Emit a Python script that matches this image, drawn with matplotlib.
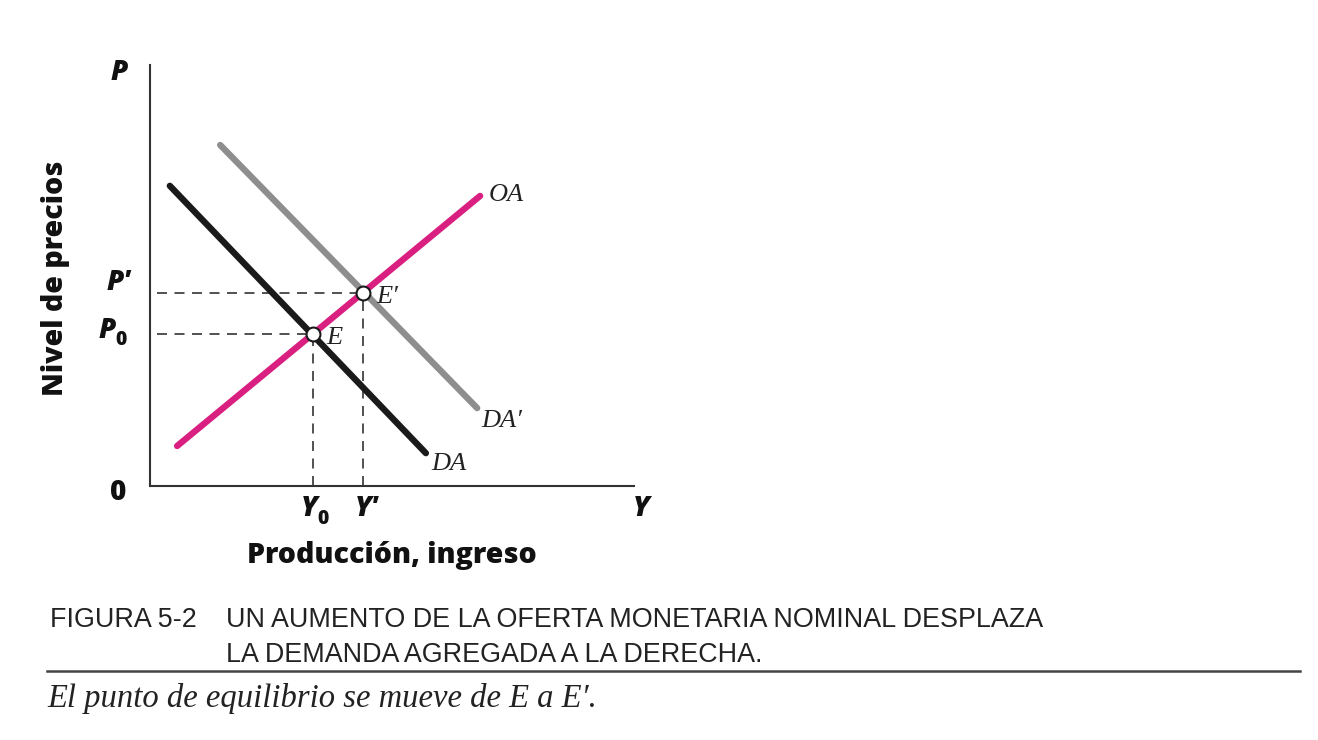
import matplotlib
matplotlib.use("Agg")
import matplotlib.pyplot as plt

# ---- data (arbitrary units, origin at axes corner) ----
oa_x = [5.6, 68.2]
oa_y = [9.5, 68.9]
da_x = [4.1, 57.0]
da_y = [71.3, 7.8]
da2_x = [14.5, 67.6]
da2_y = [81.0, 18.5]
eq_names = ["E", "E′"]
eq_x = [33.7, 44.0]
eq_y = [36.1, 45.8]

W, H = 1318, 740
fig = plt.figure(figsize=(W / 100, H / 100), dpi=100)
fig.patch.set_facecolor("white")

def fx(px):
    return px / W

def fy(py):
    return 1 - py / H

ax = fig.add_axes([fx(150), fy(486), (634 - 150) / W, (486 - 65) / H])
ax.set_xlim(0, 100)
ax.set_ylim(0, 100)
for s in ["top", "right"]:
    ax.spines[s].set_visible(False)
for s in ["left", "bottom"]:
    ax.spines[s].set_color("#333333")
    ax.spines[s].set_linewidth(1.5)
ax.set_xticks([])
ax.set_yticks([])

# dashed guide lines
for x, y in zip(eq_x, eq_y):
    ax.plot([1.5, x], [y, y], color="#333333", lw=1.2, dashes=(6, 4.5), zorder=1)
    ax.plot([x, x], [0, y], color="#333333", lw=1.2, dashes=(6, 4.5), zorder=1)

# curves
ax.plot(da2_x, da2_y, color="#8e8e8e", lw=4.6, solid_capstyle="round", zorder=2)
ax.plot(da_x, da_y, color="#1a1a1a", lw=4.6, solid_capstyle="round", zorder=3)
ax.plot(oa_x, oa_y, color="#d91f80", lw=4.6, solid_capstyle="round", zorder=4)

# equilibrium points
ax.plot(eq_x, eq_y, "o", ms=10, mfc="white", mec="#1a1a1a", mew=1.5, zorder=5)

serif = dict(family="Liberation Serif", style="italic", fontsize=19, color="#222222")
ax.text(oa_x[1] + 1.8, oa_y[1] + 0.3, "OA", ha="left", va="center", **serif)
ax.text(da_x[1] + 1.2, da_y[1] - 2.5, "DA", ha="left", va="center", **serif)
ax.text(da2_x[1] + 0.8, da2_y[1] - 3.0, "DA′", ha="left", va="center", **serif)
for name, x, y in zip(eq_names, eq_x, eq_y):
    ax.text(x + 2.8, y - 1.0, name, ha="left", va="center", **serif)

bold = dict(family="Open Sans", weight=800, style="italic", fontsize=20, color="#111111")
sub = dict(family="Open Sans", weight=800, fontsize=14, color="#111111")
fig.text(fx(119), fy(73), "P", ha="center", va="center", **bold)
fig.text(fx(118), fy(283), "P′", ha="center", va="center", **bold)
fig.text(fx(107), fy(331), "P", ha="center", va="center", **bold)
fig.text(fx(121), fy(340), "0", ha="center", va="center", **sub)
fig.text(fx(118), fy(492), "0", ha="center", va="center", family="Open Sans",
         weight=800, fontsize=20, color="#111111")
fig.text(fx(309), fy(508), "Y", ha="center", va="center", **bold)
fig.text(fx(323), fy(519), "0", ha="center", va="center", **sub)
fig.text(fx(366), fy(508), "Y′", ha="center", va="center", **bold)
fig.text(fx(641), fy(508), "Y", ha="center", va="center", **bold)

fig.text(fx(56), fy(278), "Nivel de precios", rotation=90, ha="center", va="center",
         family="Open Sans", weight=800, fontsize=20.5, color="#111111")
fig.text(fx(392), fy(556), "Producción, ingreso", ha="center", va="center",
         family="Open Sans", weight=800, fontsize=20.5, color="#111111")

cap = dict(family="Liberation Sans", fontsize=19.4, color="#222222")
fig.text(fx(50), fy(620), "FIGURA 5-2", ha="left", va="center", **cap)
fig.text(fx(226), fy(620), "UN AUMENTO DE LA OFERTA MONETARIA NOMINAL DESPLAZA",
         ha="left", va="center", **cap)
fig.text(fx(226), fy(655), "LA DEMANDA AGREGADA A LA DERECHA.", ha="left", va="center", **cap)

fig.add_artist(plt.Line2D([fx(47), fx(1300)], [fy(671), fy(671)], color="#444444", lw=1.8))

fig.text(fx(47), fy(699), "El punto de equilibrio se mueve de E a E′.", ha="left", va="center",
         family="Liberation Serif", style="italic", fontsize=23.5, color="#222222")

fig.savefig("out.png", dpi=100, facecolor="white")
